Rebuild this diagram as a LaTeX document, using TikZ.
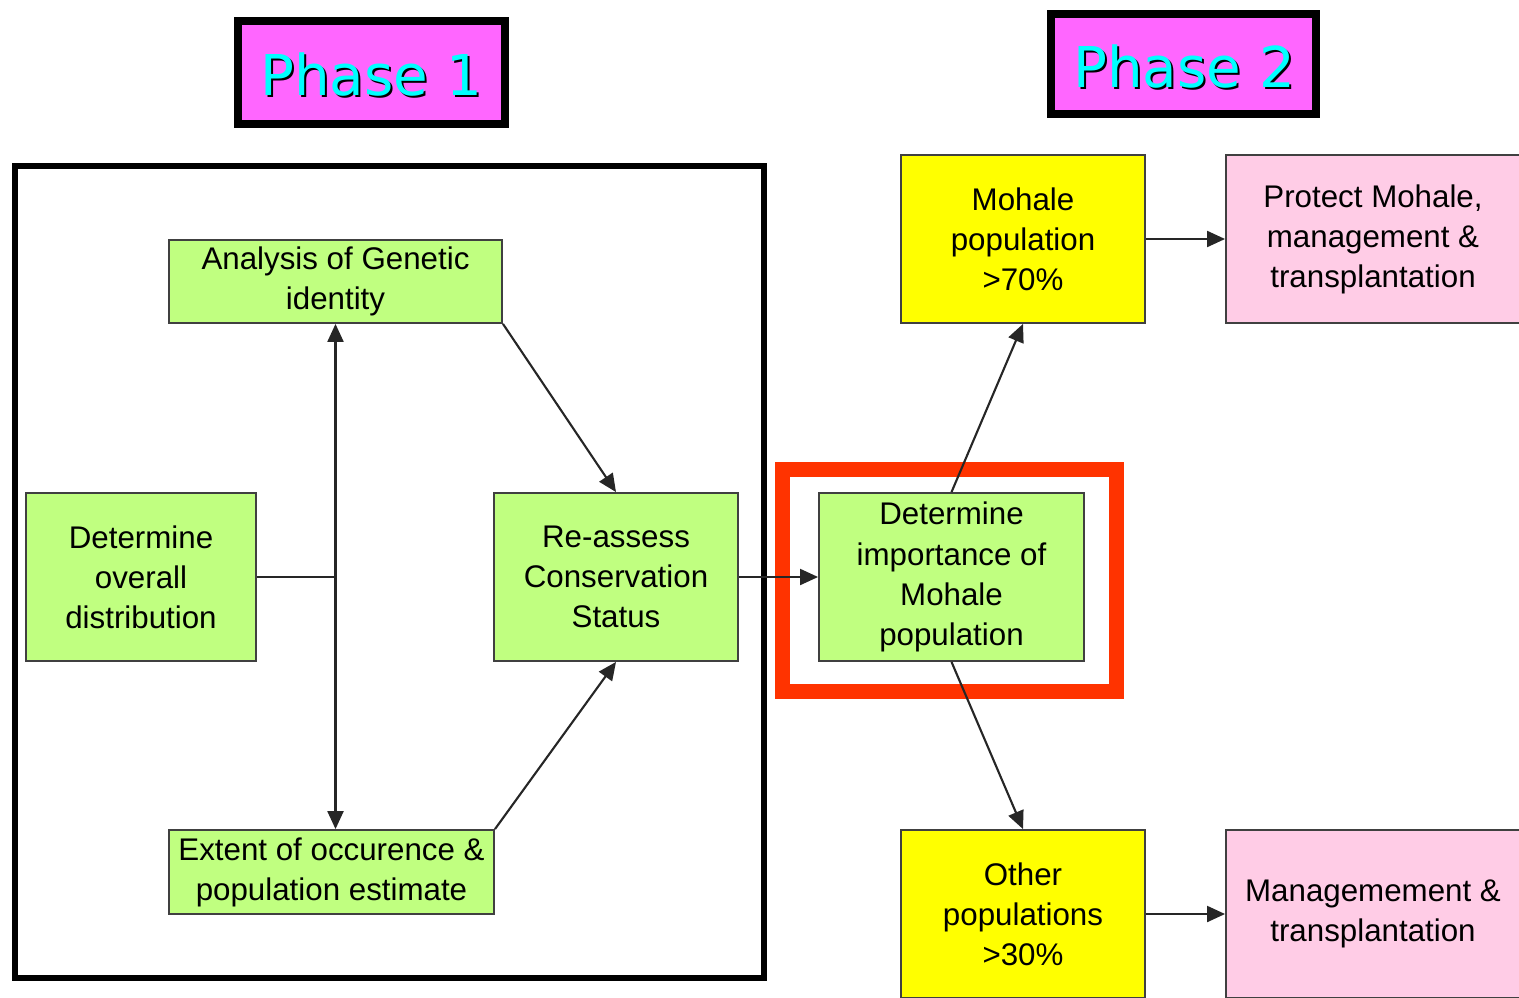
\documentclass[tikz,border=0pt]{standalone}
\usepackage{fontspec}
\setmainfont{Liberation Sans}
\newfontfamily\titlefont{DejaVu Sans}
\usetikzlibrary{arrows.meta, positioning, calc}

\definecolor{boxgreen}{HTML}{C0FF80}
\definecolor{boxyellow}{HTML}{FFFF00}
\definecolor{boxpink}{HTML}{FFCCE6}
\definecolor{phasemagenta}{HTML}{FF66FF}
\definecolor{phasecyan}{HTML}{00FFFF}
\definecolor{focusred}{HTML}{FF3300}

\tikzset{
    taskbox/.style={draw=black!75, line width=0.5pt, align=center, inner sep=0pt},
    greenbox/.style={taskbox, fill=boxgreen},
    yellowbox/.style={taskbox, fill=boxyellow},
    pinkbox/.style={taskbox, fill=boxpink},
    phasebox/.style={draw=black, line width=0.08cm, fill=phasemagenta, inner sep=0pt},
    phaselabel/.style={font=\titlefont\fontsize{16}{16}\selectfont, inner sep=0pt},
    flow/.style={draw=black!85, line width=0.6pt, -{Triangle[length=0.18cm,width=0.16cm]}},
    link/.style={draw=black!85, line width=0.6pt}
}

\begin{document}
\begin{tikzpicture}[x=0.01cm, y=-0.01cm, font=\fontsize{8.9}{11.4}\selectfont]
    \useasboundingbox (0,0) rectangle (1519,997);

    % phase titles
    \node[phasebox, minimum width=2.67cm, minimum height=1.03cm] (phase1) at (371.5,72.5) {};
    \node[phaselabel, text=black] at (373,77) {Phase 1};
    \node[phaselabel, text=phasecyan] at (371,75) {Phase 1};
    \node[phasebox, minimum width=2.65cm, minimum height=1.00cm] (phase2) at (1183.5,64) {};
    \node[phaselabel, text=black] at (1186,69) {Phase 2};
    \node[phaselabel, text=phasecyan] at (1184,67) {Phase 2};

    % frames
    \draw[line width=0.06cm] (15,166) rectangle (764,978);
    \draw[focusred, line width=0.15cm] (782.5,469.5) rectangle (1116.5,691.5);

    % phase 1 tasks
    \node[greenbox, minimum width=3.33cm, minimum height=0.83cm] (genetic) at (335.5,281.5) {Analysis of Genetic\\identity};
    \node[greenbox, minimum width=2.30cm, minimum height=1.68cm] (distrib) at (141,577) {Determine\\overall\\distribution};
    \node[greenbox, minimum width=2.44cm, minimum height=1.68cm] (reassess) at (616,577) {Re-assess\\Conservation\\Status};
    \node[greenbox, minimum width=3.25cm, minimum height=0.84cm] (extent) at (331.5,872) {Extent of occurence \&\\population estimate};

    % phase 2 tasks
    \node[greenbox, minimum width=2.65cm, minimum height=1.68cm] (importance) at (951.5,577) {Determine\\importance of\\Mohale\\population};
    \node[yellowbox, minimum width=2.44cm, minimum height=1.68cm] (mohale) at (1023,239) {Mohale\\population\\>70\%};
    \node[pinkbox, minimum width=2.94cm, minimum height=1.68cm] (protect) at (1373,239) {Protect Mohale,\\management \&\\transplantation};
    \node[yellowbox, minimum width=2.44cm, minimum height=1.68cm] (others) at (1023,914) {Other\\populations\\>30\%};
    \node[pinkbox, minimum width=2.94cm, minimum height=1.68cm] (manage) at (1373,914) {Managemement \&\\transplantation};

    % connectors
    \coordinate (junction) at (distrib.east -| genetic.south);
    \draw[link] (distrib.east) -- (junction);
    \draw[flow] (junction) -- (genetic.south);
    \draw[flow] (junction) -- (genetic.south |- extent.north);
    \draw[flow] (genetic.south east) -- (reassess.north);
    \draw[flow] (extent.north east) -- (reassess.south);
    \draw[flow] (reassess) -- (importance);
    \draw[flow] (importance.north) -- (mohale.south);
    \draw[flow] (importance.south) -- (others.north);
    \draw[flow] (mohale) -- (protect);
    \draw[flow] (others) -- (manage);
\end{tikzpicture}
\end{document}
